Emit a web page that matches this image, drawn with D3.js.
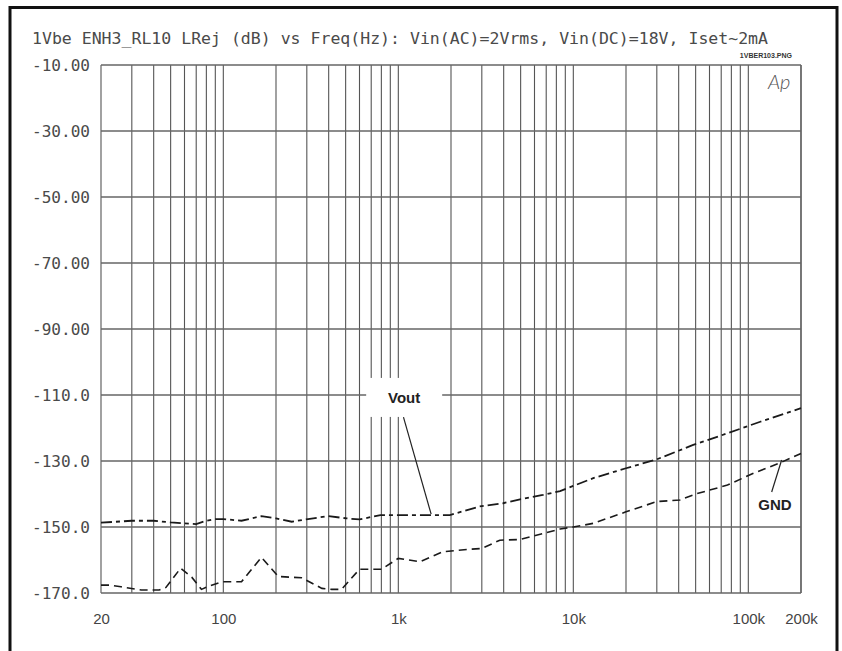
<!DOCTYPE html>
<html>
<head>
<meta charset="utf-8">
<script src="https://cdn.jsdelivr.net/npm/d3@7"></script>
<style>
  body { margin: 0; background: #fff; }
  svg { display: block; }
</style>
</head>
<body>
<div id="chart-1"></div>
<script>
// tick labels
const xLabelValues = [20, 100, 1000, 10000, 100000, 200000]
const xLabelText = ['20', '100', '1k', '10k', '100k', '200k']
const yTickValues = [-10, -30, -50, -70, -90, -110, -130, -150, -170]
const yTickText = ['-10.00', '-30.00', '-50.00', '-70.00', '-90.00', '-110.0', '-130.0', '-150.0', '-170.0']

// Vout series (Hz, dB)
const voutFreq = [20, 30, 40, 50, 60, 70, 80, 90, 100, 127, 165, 200, 246, 305, 397, 508, 600, 790, 1970, 2900, 3970, 4960, 6700, 8400, 13000, 20000, 30000, 48000, 76000, 117000, 200000]
const voutDb = [-148.7, -148.1, -148.1, -148.6, -148.9, -149.1, -148.1, -147.6, -147.6, -148.1, -146.7, -147.4, -148.4, -147.6, -146.7, -147.4, -147.7, -146.4, -146.4, -143.8, -142.8, -141.6, -140.3, -139.1, -135.2, -132.2, -129.5, -125.2, -121.6, -118.1, -114.0]

// GND series (Hz, dB)
const gndFreq = [20, 22.5, 26, 34, 43, 47, 57, 66, 75, 83, 98, 127, 165, 206, 280, 366, 416, 474, 600, 800, 1000, 1330, 1800, 2460, 3000, 3800, 4960, 6700, 8400, 10000, 13000, 20000, 30000, 40700, 50000, 76000, 107000, 150000, 200000]
const gndDb = [-167.6, -167.6, -168.1, -169.1, -169.1, -168.3, -162.5, -165.2, -168.9, -167.9, -166.6, -166.6, -159.2, -165.0, -165.4, -168.6, -168.9, -168.9, -162.8, -162.8, -159.5, -160.5, -157.5, -156.8, -156.5, -154.0, -153.8, -152.0, -150.6, -150.0, -148.9, -145.4, -142.3, -141.8, -140.0, -137.3, -133.7, -130.7, -127.7]

const margin = { top: 65, right: 41, bottom: 58, left: 101 }
const width = 842 - margin.left - margin.right
const height = 651 - margin.top - margin.bottom

const root = d3
  .select('#chart-1')
  .append('svg')
  .attr('width', 842)
  .attr('height', 651)

// outer frame, open at the bottom
root
  .append('path')
  .attr('d', 'M10,660 L10,7.5 L837,7.5 L837,660')
  .attr('fill', 'none')
  .attr('stroke', '#111')
  .attr('stroke-width', 3)

root
  .append('text')
  .attr('x', 32)
  .attr('y', 44)
  .attr('textLength', 736)
  .attr('lengthAdjust', 'spacingAndGlyphs')
  .attr('font-family', 'DejaVu Sans Mono, monospace')
  .attr('font-size', 16)
  .attr('fill', '#4a4a4a')
  .text('1Vbe ENH3_RL10 LRej (dB) vs Freq(Hz): Vin(AC)=2Vrms, Vin(DC)=18V, Iset~2mA')

root
  .append('text')
  .attr('x', 792)
  .attr('y', 58)
  .attr('text-anchor', 'end')
  .attr('font-family', 'Liberation Sans, Arial, sans-serif')
  .attr('font-weight', 'bold')
  .attr('font-size', 7)
  .attr('fill', '#333')
  .text('1VBER103.PNG')

const svg = root
  .append('g')
  .attr('transform', 'translate(' + margin.left + ',' + margin.top + ')')

const xPositionScale = d3.scaleLog()
  .domain([20, 200000])
  .range([0, width])

const yPositionScale = d3.scaleLinear()
  .domain([-170, -10])
  .range([height, 0])

// every 1-2-3..9 line per decade
const gridFreqs = []
for (let dec = 10; dec <= 100000; dec *= 10) {
  for (let m = 1; m <= 9; m++) {
    const f = dec * m
    if (f >= 20 && f <= 200000) gridFreqs.push(f)
  }
}
gridFreqs.push(200000)

// vertical grid
svg.selectAll('.vgrid')
  .data(gridFreqs)
  .enter()
  .append('line')
  .attr('class', 'vgrid')
  .attr('x1', d => xPositionScale(d))
  .attr('x2', d => xPositionScale(d))
  .attr('y1', 0)
  .attr('y2', height)
  .attr('stroke', '#555')
  .attr('stroke-width', 1.1)

// horizontal grid
svg.selectAll('.hgrid')
  .data(yTickValues)
  .enter()
  .append('line')
  .attr('class', 'hgrid')
  .attr('x1', 0)
  .attr('x2', width)
  .attr('y1', d => yPositionScale(d))
  .attr('y2', d => yPositionScale(d))
  .attr('stroke', '#666')
  .attr('stroke-width', 1.3)

// y labels
const yAxis = d3.axisLeft(yPositionScale)
  .tickValues(yTickValues)
  .tickSize(0)
  .tickPadding(11)
  .tickFormat((d, i) => yTickText[i])
svg.append('g')
  .attr('class', 'axis y-axis')
  .call(yAxis)
svg.selectAll('.y-axis path').attr('stroke', 'none')
svg.selectAll('.y-axis text')
  .attr('font-family', 'DejaVu Sans Mono, monospace')
  .attr('font-size', 16)
  .attr('fill', '#4a4a4a')
  .attr('textLength', 58)
  .attr('lengthAdjust', 'spacingAndGlyphs')

// x labels
const xAxis = d3.axisBottom(xPositionScale)
  .tickValues(xLabelValues)
  .tickSize(0)
  .tickPadding(20)
  .tickFormat((d, i) => xLabelText[i])
svg.append('g')
  .attr('class', 'axis x-axis')
  .attr('transform', 'translate(0,' + height + ')')
  .call(xAxis)
svg.selectAll('.x-axis path').attr('stroke', 'none')
svg.selectAll('.x-axis text')
  .attr('font-family', 'Liberation Sans, Arial, sans-serif')
  .attr('font-size', 15)
  .attr('fill', '#444')

// "Ap" mark
svg.append('text')
  .attr('x', xPositionScale(150000))
  .attr('y', 24)
  .attr('text-anchor', 'middle')
  .attr('font-family', 'Lato, Liberation Sans, sans-serif')
  .attr('font-weight', 300)
  .attr('font-style', 'italic')
  .attr('font-size', 20)
  .attr('fill', '#555')
  .text('Ap')

// Vout label box (blanks the grid behind it)
svg.append('rect')
  .attr('x', xPositionScale(1080) - 38)
  .attr('y', yPositionScale(-112.4) - 25)
  .attr('width', 76)
  .attr('height', 39)
  .attr('fill', '#fff')

svg.append('text')
  .attr('x', xPositionScale(1080))
  .attr('y', yPositionScale(-112.4))
  .attr('text-anchor', 'middle')
  .attr('font-family', 'Liberation Sans, Arial, sans-serif')
  .attr('font-weight', 'bold')
  .attr('font-size', 15)
  .attr('fill', '#222')
  .text('Vout')

svg.append('line')
  .attr('x1', xPositionScale(1070))
  .attr('y1', yPositionScale(-116.7))
  .attr('x2', xPositionScale(1540))
  .attr('y2', yPositionScale(-146.1))
  .attr('stroke', '#222')
  .attr('stroke-width', 1.2)

svg.append('text')
  .attr('x', xPositionScale(142000))
  .attr('y', yPositionScale(-144.7))
  .attr('text-anchor', 'middle')
  .attr('font-family', 'Liberation Sans, Arial, sans-serif')
  .attr('font-weight', 'bold')
  .attr('font-size', 15)
  .attr('fill', '#222')
  .text('GND')

svg.append('line')
  .attr('x1', xPositionScale(136000))
  .attr('y1', yPositionScale(-139.4))
  .attr('x2', xPositionScale(155000))
  .attr('y2', yPositionScale(-129.7))
  .attr('stroke', '#222')
  .attr('stroke-width', 1.2)

// curves
const line = d3.line()
  .x(d => xPositionScale(d[0]))
  .y(d => yPositionScale(d[1]))

svg.append('path')
  .datum(voutFreq.map((f, i) => [f, voutDb[i]]))
  .attr('class', 'line vout')
  .attr('d', line)
  .attr('fill', 'none')
  .attr('stroke', '#1a1a1a')
  .attr('stroke-width', 1.8)
  .attr('stroke-dasharray', '11,4,4,4')

svg.append('path')
  .datum(gndFreq.map((f, i) => [f, gndDb[i]]))
  .attr('class', 'line gnd')
  .attr('d', line)
  .attr('fill', 'none')
  .attr('stroke', '#1a1a1a')
  .attr('stroke-width', 1.6)
  .attr('stroke-dasharray', '8,5')
</script>
</body>
</html>
